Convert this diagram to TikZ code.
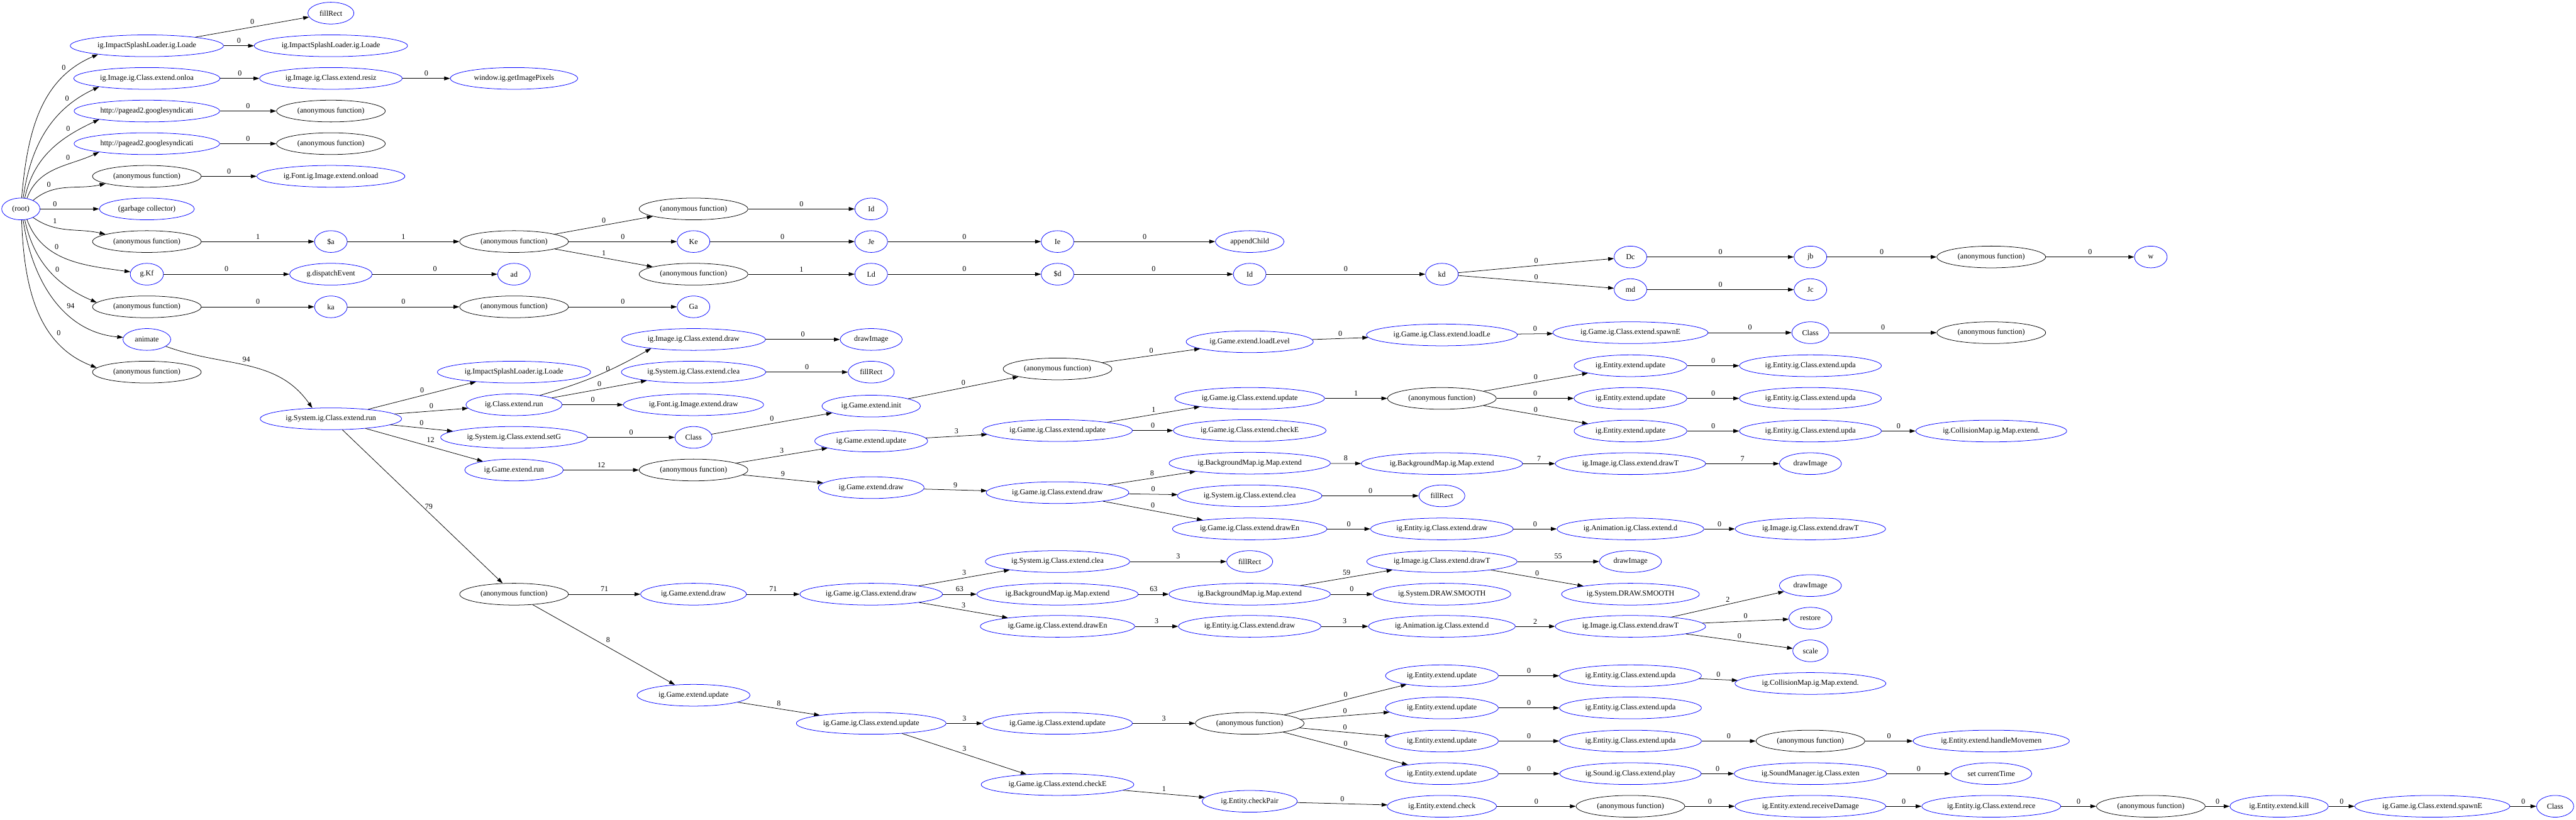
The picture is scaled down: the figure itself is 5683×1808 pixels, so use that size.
\documentclass[tikz,border=0pt]{standalone}
\usepackage{fontspec}
\setmainfont{Liberation Serif}
\usepackage{tikz}
\usetikzlibrary{shapes.geometric, arrows.meta}
\tikzstyle{fn} = [ellipse, draw=blue, line width=0.6pt, text centered, minimum width=1.44cm, minimum height=0.96cm, inner xsep=0.217cm, inner ysep=0.1cm, font=\fontsize{9.5pt}{11pt}\selectfont]
\tikzstyle{anon} = [fn, draw=black]
\tikzstyle{arrow} = [line width=0.6pt, -{Triangle[length=0.26cm, width=0.17cm]}]
\tikzstyle{lbl} = [font=\fontsize{9.5pt}{11pt}\selectfont, inner sep=0.1cm]

\begin{document}
\begin{tikzpicture}[x=0.02cm, y=-0.02cm]
  \useasboundingbox (0,0) rectangle (5683,1808);

  % column 0 and 1
  \node (root) [fn] at (46,461) {(root)};
  \node (isl) [fn] at (324,101) {ig.ImpactSplashLoader.ig.Loade};
  \node (onloa) [fn] at (324,173) {ig.Image.ig.Class.extend.onloa};
  \node (ads1) [fn] at (324,245) {http://pagead2.googlesyndicati};
  \node (ads2) [fn] at (324,317) {http://pagead2.googlesyndicati};
  \node (anonA) [anon] at (324,389) {(anonymous function)};
  \node (gc) [fn] at (324,461) {(garbage collector)};
  \node (anonB) [anon] at (324,533) {(anonymous function)};
  \node (kf) [fn] at (324,605) {g.Kf};
  \node (anonC) [anon] at (324,677) {(anonymous function)};
  \node (animate) [fn] at (324,749) {animate};
  \node (anonD) [anon] at (324,821) {(anonymous function)};

  % column 2
  \node (fill1) [fn] at (730,29) {fillRect};
  \node (isl2) [fn] at (730,101) {ig.ImpactSplashLoader.ig.Loade};
  \node (resiz) [fn] at (730,173) {ig.Image.ig.Class.extend.resiz};
  \node (anonE) [anon] at (730,245) {(anonymous function)};
  \node (anonF) [anon] at (730,317) {(anonymous function)};
  \node (fontload) [fn] at (730,389) {ig.Font.ig.Image.extend.onload};
  \node (sa) [fn] at (730,533) {\$a};
  \node (dispatch) [fn] at (730,605) {g.dispatchEvent};
  \node (ka) [fn] at (730,677) {ka};
  \node (sysrun) [fn] at (730,924) {ig.System.ig.Class.extend.run};

  % column 3
  \node (pixels) [fn] at (1134,173) {window.ig.getImagePixels};
  \node (anonG) [anon] at (1134,533) {(anonymous function)};
  \node (ad) [fn] at (1134,605) {ad};
  \node (anonH) [anon] at (1134,677) {(anonymous function)};
  \node (isl3) [fn] at (1134,821) {ig.ImpactSplashLoader.ig.Loade};
  \node (crun) [fn] at (1134,893) {ig.Class.extend.run};
  \node (setg) [fn] at (1134,965) {ig.System.ig.Class.extend.setG};
  \node (grun) [fn] at (1134,1037) {ig.Game.extend.run};
  \node (anonI) [anon] at (1134,1311) {(anonymous function)};

  % column 4
  \node (anonJ) [anon] at (1530,461) {(anonymous function)};
  \node (ke) [fn] at (1530,533) {Ke};
  \node (anonK) [anon] at (1530,605) {(anonymous function)};
  \node (ga) [fn] at (1530,677) {Ga};
  \node (imgdraw) [fn] at (1530,749) {ig.Image.ig.Class.extend.draw};
  \node (clea1) [fn] at (1530,821) {ig.System.ig.Class.extend.clea};
  \node (fontdraw) [fn] at (1530,893) {ig.Font.ig.Image.extend.draw};
  \node (class1) [fn] at (1530,965) {Class};
  \node (anonL) [anon] at (1530,1037) {(anonymous function)};
  \node (gdraw1) [fn] at (1530,1311) {ig.Game.extend.draw};
  \node (gupd1) [fn] at (1530,1534) {ig.Game.extend.update};

  % column 5
  \node (id1) [fn] at (1922,461) {Id};
  \node (je) [fn] at (1922,533) {Je};
  \node (ld) [fn] at (1922,605) {Ld};
  \node (drawimg1) [fn] at (1922,749) {drawImage};
  \node (fill2) [fn] at (1922,821) {fillRect};
  \node (ginit) [fn] at (1922,896) {ig.Game.extend.init};
  \node (gupd2) [fn] at (1922,973) {ig.Game.extend.update};
  \node (gdraw2) [fn] at (1922,1076) {ig.Game.extend.draw};
  \node (gcdraw1) [fn] at (1922,1311) {ig.Game.ig.Class.extend.draw};
  \node (gcupd1) [fn] at (1922,1596) {ig.Game.ig.Class.extend.update};

  % column 6
  \node (ie) [fn] at (2333,533) {Ie};
  \node (sd) [fn] at (2333,605) {\$d};
  \node (anonM) [anon] at (2333,814) {(anonymous function)};
  \node (gcupd2) [fn] at (2333,950) {ig.Game.ig.Class.extend.update};
  \node (gcdraw2) [fn] at (2333,1087) {ig.Game.ig.Class.extend.draw};
  \node (clea2) [fn] at (2333,1239) {ig.System.ig.Class.extend.clea};
  \node (bgmap1) [fn] at (2333,1311) {ig.BackgroundMap.ig.Map.extend};
  \node (drawen1) [fn] at (2333,1382) {ig.Game.ig.Class.extend.drawEn};
  \node (gcupd3) [fn] at (2333,1596) {ig.Game.ig.Class.extend.update};
  \node (checke1) [fn] at (2333,1731) {ig.Game.ig.Class.extend.checkE};

  % column 7
  \node (append) [fn] at (2757,533) {appendChild};
  \node (id2) [fn] at (2757,605) {Id};
  \node (loadlevel) [fn] at (2757,754) {ig.Game.extend.loadLevel};
  \node (gcupd4) [fn] at (2757,879) {ig.Game.ig.Class.extend.update};
  \node (checke2) [fn] at (2757,950) {ig.Game.ig.Class.extend.checkE};
  \node (bgmap2) [fn] at (2757,1022) {ig.BackgroundMap.ig.Map.extend};
  \node (clea3) [fn] at (2757,1094) {ig.System.ig.Class.extend.clea};
  \node (drawen2) [fn] at (2757,1167) {ig.Game.ig.Class.extend.drawEn};
  \node (fill3) [fn] at (2757,1239) {fillRect};
  \node (bgmap3) [fn] at (2757,1311) {ig.BackgroundMap.ig.Map.extend};
  \node (edraw1) [fn] at (2757,1382) {ig.Entity.ig.Class.extend.draw};
  \node (anonN) [anon] at (2757,1596) {(anonymous function)};
  \node (pair) [fn] at (2757,1768) {ig.Entity.checkPair};

  % column 8
  \node (kd) [fn] at (3181,605) {kd};
  \node (loadle) [fn] at (3181,739) {ig.Game.ig.Class.extend.loadLe};
  \node (anonO) [anon] at (3181,879) {(anonymous function)};
  \node (bgmap4) [fn] at (3181,1023) {ig.BackgroundMap.ig.Map.extend};
  \node (fill4) [fn] at (3181,1094) {fillRect};
  \node (edraw2) [fn] at (3181,1167) {ig.Entity.ig.Class.extend.draw};
  \node (drawt1) [fn] at (3181,1239) {ig.Image.ig.Class.extend.drawT};
  \node (smooth1) [fn] at (3181,1311) {ig.System.DRAW.SMOOTH};
  \node (anim1) [fn] at (3181,1382) {ig.Animation.ig.Class.extend.d};
  \node (eupd1) [fn] at (3181,1491) {ig.Entity.extend.update};
  \node (eupd2) [fn] at (3181,1562) {ig.Entity.extend.update};
  \node (eupd3) [fn] at (3181,1635) {ig.Entity.extend.update};
  \node (eupd4) [fn] at (3181,1707) {ig.Entity.extend.update};
  \node (check) [fn] at (3181,1779) {ig.Entity.extend.check};

  % column 9
  \node (dc) [fn] at (3597,567) {Dc};
  \node (md) [fn] at (3597,639) {md};
  \node (spawne1) [fn] at (3597,734) {ig.Game.ig.Class.extend.spawnE};
  \node (eupd5) [fn] at (3597,807) {ig.Entity.extend.update};
  \node (eupd6) [fn] at (3597,879) {ig.Entity.extend.update};
  \node (eupd7) [fn] at (3597,951) {ig.Entity.extend.update};
  \node (drawt2) [fn] at (3597,1023) {ig.Image.ig.Class.extend.drawT};
  \node (anim2) [fn] at (3597,1167) {ig.Animation.ig.Class.extend.d};
  \node (drawimg2) [fn] at (3597,1239) {drawImage};
  \node (smooth2) [fn] at (3597,1311) {ig.System.DRAW.SMOOTH};
  \node (drawt3) [fn] at (3597,1382) {ig.Image.ig.Class.extend.drawT};
  \node (eupda1) [fn] at (3597,1491) {ig.Entity.ig.Class.extend.upda};
  \node (eupda2) [fn] at (3597,1562) {ig.Entity.ig.Class.extend.upda};
  \node (eupda3) [fn] at (3597,1635) {ig.Entity.ig.Class.extend.upda};
  \node (play) [fn] at (3597,1707) {ig.Sound.ig.Class.extend.play};
  \node (anonP) [anon] at (3597,1779) {(anonymous function)};

  % column 10
  \node (jb) [fn] at (3994,567) {jb};
  \node (jc) [fn] at (3994,639) {Jc};
  \node (class2) [fn] at (3994,734) {Class};
  \node (eupda4) [fn] at (3994,807) {ig.Entity.ig.Class.extend.upda};
  \node (eupda5) [fn] at (3994,879) {ig.Entity.ig.Class.extend.upda};
  \node (eupda6) [fn] at (3994,951) {ig.Entity.ig.Class.extend.upda};
  \node (drawimg3) [fn] at (3994,1023) {drawImage};
  \node (drawt4) [fn] at (3994,1167) {ig.Image.ig.Class.extend.drawT};
  \node (drawimg4) [fn] at (3994,1292) {drawImage};
  \node (restore) [fn] at (3994,1364) {restore};
  \node (scale) [fn] at (3994,1436) {scale};
  \node (colmap1) [fn] at (3994,1508) {ig.CollisionMap.ig.Map.extend.};
  \node (anonQ) [anon] at (3994,1635) {(anonymous function)};
  \node (soundmgr) [fn] at (3994,1707) {ig.SoundManager.ig.Class.exten};
  \node (damage) [fn] at (3994,1779) {ig.Entity.extend.receiveDamage};

  % columns 11 to 15
  \node (anonR) [anon] at (4393,567) {(anonymous function)};
  \node (anonS) [anon] at (4393,734) {(anonymous function)};
  \node (colmap2) [fn] at (4393,951) {ig.CollisionMap.ig.Map.extend.};
  \node (movement) [fn] at (4393,1635) {ig.Entity.extend.handleMovemen};
  \node (curtime) [fn] at (4393,1707) {set currentTime};
  \node (rece) [fn] at (4393,1779) {ig.Entity.ig.Class.extend.rece};
  \node (w) [fn] at (4745,567) {w};
  \node (anonT) [anon] at (4745,1779) {(anonymous function)};
  \node (kill) [fn] at (5028,1779) {ig.Entity.extend.kill};
  \node (spawne2) [fn] at (5366,1779) {ig.Game.ig.Class.extend.spawnE};
  \node (class3) [fn] at (5637,1779) {Class};

  % fan out of the root
  \draw [arrow] (root.86) to[out=85, in=203] node[lbl, pos=0.8, above left] {0} (isl.190);
  \draw [arrow] (root.78) to[out=82, in=205] node[lbl, pos=0.78, above left] {0} (onloa.190);
  \draw [arrow] (root.70) to[out=78, in=205] node[lbl, pos=0.75, above left] {0} (ads1.190);
  \draw [arrow] (root.60) to[out=70, in=205] node[lbl, pos=0.7, above left] {0} (ads2.190);
  \draw [arrow] (root.35) to[out=40, in=193] node[lbl, pos=0.3, above left] {0} (anonA.190);
  \draw [arrow] (root) -- (gc) node[lbl, pos=0.25, above] {0};
  \draw [arrow] (root.-35) to[out=-35, in=167] node[lbl, pos=0.25, above right] {1} (anonB.170);
  \draw [arrow] (root.-60) to[out=-70, in=172] node[lbl, pos=0.35, above right] {0} (kf);
  \draw [arrow] (root.-70) to[out=-78, in=157] node[lbl, pos=0.55, above right] {0} (anonC.175);
  \draw [arrow] (root.-78) to[out=-82, in=175] node[lbl, pos=0.6, above right] {94} (animate);
  \draw [arrow] (root.-86) to[out=-88, in=159] node[lbl, pos=0.7, above right] {0} (anonD.175);

  % upper rows
  \draw [arrow] (isl) -- (fill1) node[lbl, midway, above] {0};
  \draw [arrow] (isl) -- (isl2) node[lbl, midway, above] {0};
  \draw [arrow] (onloa) -- (resiz) node[lbl, midway, above] {0};
  \draw [arrow] (resiz) -- (pixels) node[lbl, midway, above] {0};
  \draw [arrow] (ads1) -- (anonE) node[lbl, midway, above] {0};
  \draw [arrow] (ads2) -- (anonF) node[lbl, midway, above] {0};
  \draw [arrow] (anonA) -- (fontload) node[lbl, midway, above] {0};
  \draw [arrow] (anonB) -- (sa) node[lbl, midway, above] {1};
  \draw [arrow] (sa) -- (anonG) node[lbl, midway, above] {1};
  \draw [arrow] (anonG) -- (anonJ) node[lbl, midway, above] {0};
  \draw [arrow] (anonG) -- (ke) node[lbl, midway, above] {0};
  \draw [arrow] (anonG) -- (anonK) node[lbl, midway, above] {1};
  \draw [arrow] (anonJ) -- (id1) node[lbl, midway, above] {0};
  \draw [arrow] (ke) -- (je) node[lbl, midway, above] {0};
  \draw [arrow] (je) -- (ie) node[lbl, midway, above] {0};
  \draw [arrow] (ie) -- (append) node[lbl, midway, above] {0};
  \draw [arrow] (anonK) -- (ld) node[lbl, midway, above] {1};
  \draw [arrow] (ld) -- (sd) node[lbl, midway, above] {0};
  \draw [arrow] (sd) -- (id2) node[lbl, midway, above] {0};
  \draw [arrow] (id2) -- (kd) node[lbl, midway, above] {0};
  \draw [arrow] (kd) -- (dc) node[lbl, midway, above] {0};
  \draw [arrow] (kd) -- (md) node[lbl, midway, above] {0};
  \draw [arrow] (dc) -- (jb) node[lbl, midway, above] {0};
  \draw [arrow] (md) -- (jc) node[lbl, midway, above] {0};
  \draw [arrow] (jb) -- (anonR) node[lbl, midway, above] {0};
  \draw [arrow] (anonR) -- (w) node[lbl, midway, above] {0};
  \draw [arrow] (kf) -- (dispatch) node[lbl, midway, above] {0};
  \draw [arrow] (dispatch) -- (ad) node[lbl, midway, above] {0};
  \draw [arrow] (anonC) -- (ka) node[lbl, midway, above] {0};
  \draw [arrow] (ka) -- (anonH) node[lbl, midway, above] {0};
  \draw [arrow] (anonH) -- (ga) node[lbl, midway, above] {0};

  % main loop
  \draw [arrow] (animate) to[out=-20, in=125] node[lbl, pos=0.45, above right] {94} (sysrun.150);
  \draw [arrow] (sysrun) -- (isl3) node[lbl, midway, above] {0};
  \draw [arrow] (sysrun) -- (crun) node[lbl, midway, above] {0};
  \draw [arrow] (sysrun) -- (setg) node[lbl, midway, above] {0};
  \draw [arrow] (sysrun) -- (grun) node[lbl, midway, above right] {12};
  \draw [arrow] (sysrun) -- (anonI) node[lbl, midway, right] {79};
  \draw [arrow] (crun.20) to[out=16, in=209] node[lbl, pos=0.65, left] {0} (imgdraw.192);
  \draw [arrow] (crun) -- (clea1) node[lbl, midway, above] {0};
  \draw [arrow] (crun) -- (fontdraw) node[lbl, midway, above] {0};
  \draw [arrow] (imgdraw) -- (drawimg1) node[lbl, midway, above] {0};
  \draw [arrow] (clea1) -- (fill2) node[lbl, midway, above] {0};
  \draw [arrow] (setg) -- (class1) node[lbl, midway, above] {0};
  \draw [arrow] (class1) -- (ginit) node[lbl, midway, above] {0};
  \draw [arrow] (ginit) -- (anonM) node[lbl, midway, above] {0};
  \draw [arrow] (anonM) -- (loadlevel) node[lbl, midway, above] {0};
  \draw [arrow] (loadlevel) -- (loadle) node[lbl, midway, above] {0};
  \draw [arrow] (loadle) -- (spawne1) node[lbl, midway, above] {0};
  \draw [arrow] (spawne1) -- (class2) node[lbl, midway, above] {0};
  \draw [arrow] (class2) -- (anonS) node[lbl, midway, above] {0};
  \draw [arrow] (grun) -- (anonL) node[lbl, midway, above] {12};
  \draw [arrow] (anonL) -- (gupd2) node[lbl, midway, above] {3};
  \draw [arrow] (anonL) -- (gdraw2) node[lbl, midway, above] {9};
  \draw [arrow] (gupd2) -- (gcupd2) node[lbl, midway, above] {3};
  \draw [arrow] (gcupd2) -- (gcupd4) node[lbl, midway, above] {1};
  \draw [arrow] (gcupd2) -- (checke2) node[lbl, midway, above] {0};
  \draw [arrow] (gcupd4) -- (anonO) node[lbl, midway, above] {1};
  \draw [arrow] (anonO) -- (eupd5) node[lbl, midway, above] {0};
  \draw [arrow] (anonO) -- (eupd6) node[lbl, midway, above] {0};
  \draw [arrow] (anonO) -- (eupd7) node[lbl, midway, above] {0};
  \draw [arrow] (eupd5) -- (eupda4) node[lbl, midway, above] {0};
  \draw [arrow] (eupd6) -- (eupda5) node[lbl, midway, above] {0};
  \draw [arrow] (eupd7) -- (eupda6) node[lbl, midway, above] {0};
  \draw [arrow] (eupda6) -- (colmap2) node[lbl, midway, above] {0};
  \draw [arrow] (gdraw2) -- (gcdraw2) node[lbl, midway, above] {9};
  \draw [arrow] (gcdraw2) -- (bgmap2) node[lbl, midway, above] {8};
  \draw [arrow] (gcdraw2) -- (clea3) node[lbl, midway, above] {0};
  \draw [arrow] (gcdraw2) -- (drawen2) node[lbl, midway, above] {0};
  \draw [arrow] (bgmap2) -- (bgmap4) node[lbl, midway, above] {8};
  \draw [arrow] (bgmap4) -- (drawt2) node[lbl, midway, above] {7};
  \draw [arrow] (drawt2) -- (drawimg3) node[lbl, midway, above] {7};
  \draw [arrow] (clea3) -- (fill4) node[lbl, midway, above] {0};
  \draw [arrow] (drawen2) -- (edraw2) node[lbl, midway, above] {0};
  \draw [arrow] (edraw2) -- (anim2) node[lbl, midway, above] {0};
  \draw [arrow] (anim2) -- (drawt4) node[lbl, midway, above] {0};

  % lower rows
  \draw [arrow] (anonI) -- (gdraw1) node[lbl, midway, above] {71};
  \draw [arrow] (gdraw1) -- (gcdraw1) node[lbl, midway, above] {71};
  \draw [arrow] (gcdraw1) -- (clea2) node[lbl, midway, above] {3};
  \draw [arrow] (gcdraw1) -- (bgmap1) node[lbl, midway, above] {63};
  \draw [arrow] (gcdraw1) -- (drawen1) node[lbl, midway, above] {3};
  \draw [arrow] (clea2) -- (fill3) node[lbl, midway, above] {3};
  \draw [arrow] (bgmap1) -- (bgmap3) node[lbl, midway, above] {63};
  \draw [arrow] (bgmap3) -- (drawt1) node[lbl, midway, above] {59};
  \draw [arrow] (bgmap3) -- (smooth1) node[lbl, midway, above] {0};
  \draw [arrow] (drawt1) -- (drawimg2) node[lbl, midway, above] {55};
  \draw [arrow] (drawt1) -- (smooth2) node[lbl, midway, above] {0};
  \draw [arrow] (drawen1) -- (edraw1) node[lbl, midway, above] {3};
  \draw [arrow] (edraw1) -- (anim1) node[lbl, midway, above] {3};
  \draw [arrow] (anim1) -- (drawt3) node[lbl, midway, above] {2};
  \draw [arrow] (drawt3) -- (drawimg4) node[lbl, midway, above] {2};
  \draw [arrow] (drawt3) -- (restore) node[lbl, midway, above] {0};
  \draw [arrow] (drawt3) -- (scale) node[lbl, midway, above] {0};
  \draw [arrow] (anonI) -- (gupd1) node[lbl, midway, above right] {8};
  \draw [arrow] (gupd1) -- (gcupd1) node[lbl, midway, above] {8};
  \draw [arrow] (gcupd1) -- (gcupd3) node[lbl, midway, above] {3};
  \draw [arrow] (gcupd1) -- (checke1) node[lbl, midway, above] {3};
  \draw [arrow] (gcupd3) -- (anonN) node[lbl, midway, above] {3};
  \draw [arrow] (anonN) -- (eupd1) node[lbl, midway, above] {0};
  \draw [arrow] (anonN) -- (eupd2) node[lbl, midway, above] {0};
  \draw [arrow] (anonN) -- (eupd3) node[lbl, midway, above] {0};
  \draw [arrow] (anonN) -- (eupd4) node[lbl, midway, above] {0};
  \draw [arrow] (eupd1) -- (eupda1) node[lbl, midway, above] {0};
  \draw [arrow] (eupda1) -- (colmap1) node[lbl, midway, above] {0};
  \draw [arrow] (eupd2) -- (eupda2) node[lbl, midway, above] {0};
  \draw [arrow] (eupd3) -- (eupda3) node[lbl, midway, above] {0};
  \draw [arrow] (eupda3) -- (anonQ) node[lbl, midway, above] {0};
  \draw [arrow] (anonQ) -- (movement) node[lbl, midway, above] {0};
  \draw [arrow] (eupd4) -- (play) node[lbl, midway, above] {0};
  \draw [arrow] (play) -- (soundmgr) node[lbl, midway, above] {0};
  \draw [arrow] (soundmgr) -- (curtime) node[lbl, midway, above] {0};
  \draw [arrow] (checke1) -- (pair) node[lbl, midway, above] {1};
  \draw [arrow] (pair) -- (check) node[lbl, midway, above] {0};
  \draw [arrow] (check) -- (anonP) node[lbl, midway, above] {0};
  \draw [arrow] (anonP) -- (damage) node[lbl, midway, above] {0};
  \draw [arrow] (damage) -- (rece) node[lbl, midway, above] {0};
  \draw [arrow] (rece) -- (anonT) node[lbl, midway, above] {0};
  \draw [arrow] (anonT) -- (kill) node[lbl, midway, above] {0};
  \draw [arrow] (kill) -- (spawne2) node[lbl, midway, above] {0};
  \draw [arrow] (spawne2) -- (class3) node[lbl, midway, above] {0};
\end{tikzpicture}
\end{document}
